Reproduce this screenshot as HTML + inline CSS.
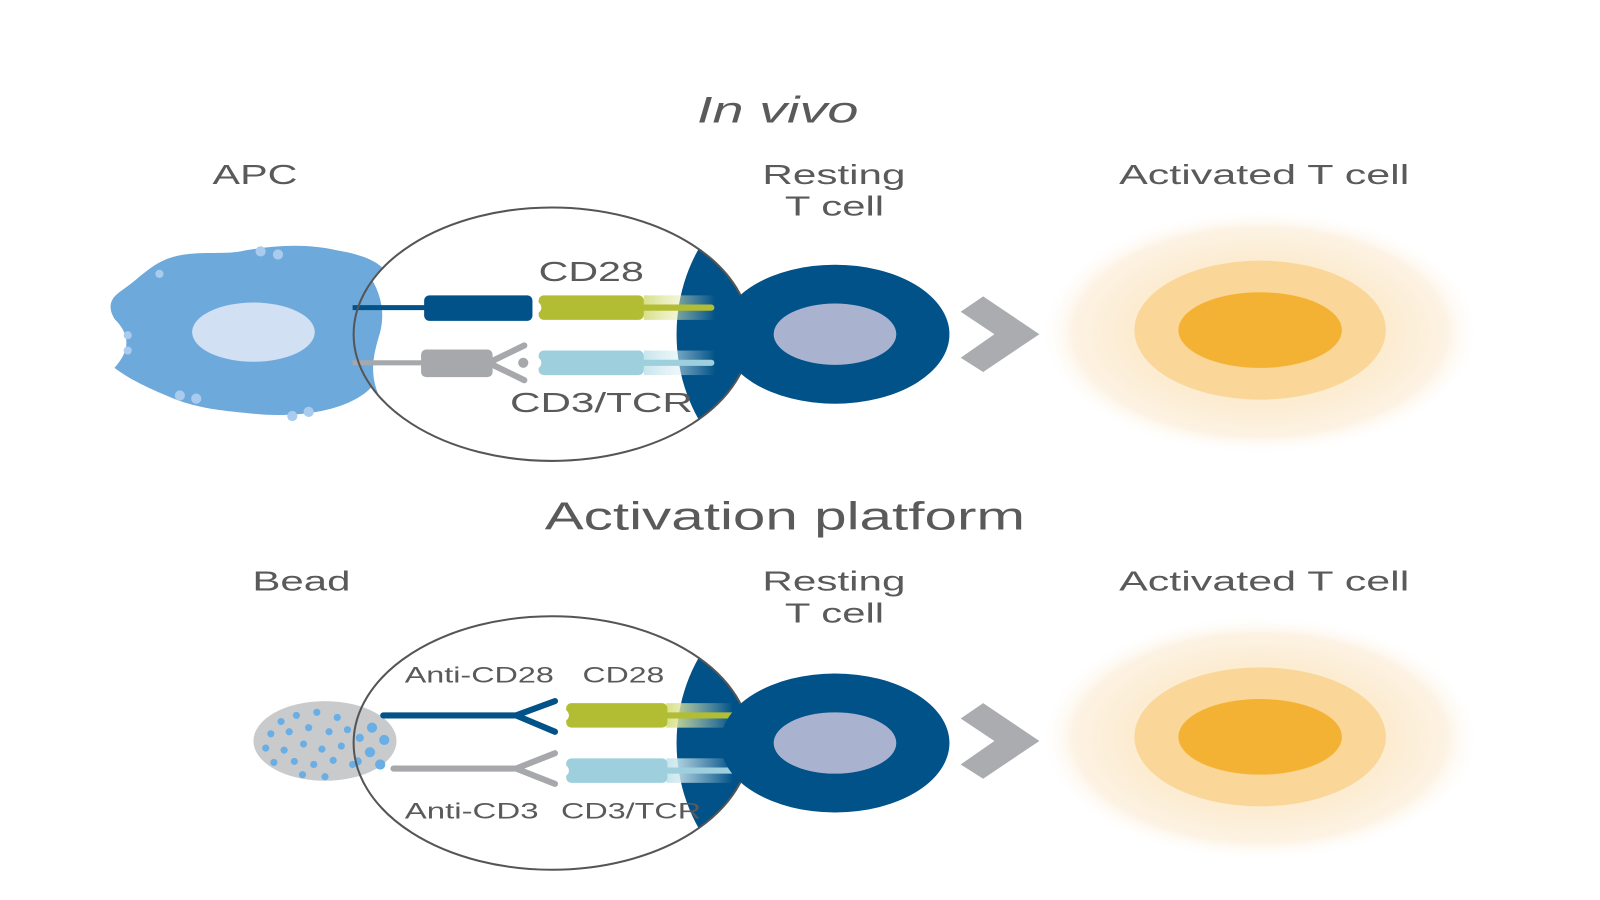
<!DOCTYPE html>
<html><head><meta charset="utf-8"><style>
html,body{margin:0;padding:0;background:#fff;}
svg{display:block;}
text{font-family:"Liberation Sans",sans-serif;fill:#5a5a5a;}
</style></head><body>
<svg width="1600" height="900" viewBox="0 0 1600 900" xmlns="http://www.w3.org/2000/svg">
<defs>
<radialGradient id="glow" cx="50%" cy="50%" r="50%">
<stop offset="0" stop-color="#fbe3b8"/>
<stop offset="0.6" stop-color="#fcecd2"/>
<stop offset="0.85" stop-color="#fdf3e4"/>
<stop offset="1" stop-color="#fff" stop-opacity="0"/>
</radialGradient>
<linearGradient id="gG" x1="0" x2="1"><stop offset="0" stop-color="#d8e08a"/><stop offset="1" stop-color="#f3f6d8" stop-opacity="0"/></linearGradient>
<linearGradient id="gB" x1="0" x2="1"><stop offset="0" stop-color="#c7e5ec"/><stop offset="1" stop-color="#eef7fa" stop-opacity="0"/></linearGradient>
<clipPath id="c1"><ellipse cx="540" cy="327" rx="194" ry="124"/></clipPath>
<clipPath id="c2"><ellipse cx="540" cy="727" rx="194" ry="124"/></clipPath>
</defs>
<g transform="scale(1.022)">
<text x="682" y="120" font-size="36" font-style="italic" textLength="158" lengthAdjust="spacingAndGlyphs">In vivo</text>
<text x="208" y="180" font-size="27" textLength="83" lengthAdjust="spacingAndGlyphs">APC</text>
<text x="746" y="180" font-size="27" textLength="140" lengthAdjust="spacingAndGlyphs">Resting</text>
<text x="768" y="211" font-size="27" textLength="97" lengthAdjust="spacingAndGlyphs">T cell</text>
<text x="1095" y="180" font-size="27" textLength="284" lengthAdjust="spacingAndGlyphs">Activated T cell</text>

<!-- APC -->
<path d="M118,285 C140,270 150,255 175,250 C200,245 220,250 240,245 C270,240 300,238 330,245 C360,250 385,260 383,285 C380,305 372,320 375,340 C378,360 370,380 345,392 C320,405 280,408 250,405 C220,402 195,400 170,390 C145,380 125,370 112,360 C130,340 125,325 112,312 C105,300 108,292 118,285 Z" fill="#6ea9dc"/>
<g fill="#a9cbed"><circle cx="255" cy="246" r="5"/><circle cx="272" cy="249" r="5"/><circle cx="156" cy="268" r="4"/><circle cx="125" cy="328" r="4"/><circle cx="125" cy="343" r="4"/><circle cx="176" cy="387" r="5"/><circle cx="192" cy="390" r="5"/><circle cx="286" cy="407" r="5"/><circle cx="302" cy="403" r="5"/></g>
<ellipse cx="248" cy="325" rx="60" ry="29" fill="#d1e0f3"/>

<!-- magnifier top -->
<ellipse cx="540" cy="327" rx="194" ry="124" fill="#fff"/>
<g clip-path="url(#c1)">
<path d="M355,260 C370,280 378,300 372,325 C366,345 360,365 372,390 L340,400 L340,250 Z" fill="#6ea9dc"/>
<ellipse cx="790" cy="327" rx="128" ry="150" fill="#005288"/>
<rect x="630" y="289" width="70" height="24" fill="url(#gG)"/>
<rect x="630" y="343" width="70" height="24" fill="url(#gB)"/>
</g>
<line x1="345" y1="301" x2="420" y2="301" stroke="#005288" stroke-width="5"/>
<rect x="415" y="289" width="106" height="25" rx="5" fill="#005288"/>
<path d="M532,289 H625 a5,5 0 0 1 5,5 V308 a5,5 0 0 1 -5,5 H532 a5,5 0 0 1 -5,-5 V306 a6,6 0 0 0 0,-10 V294 a5,5 0 0 1 5,-5 Z" fill="#b2bd33"/>
<line x1="628" y1="301" x2="696" y2="301" stroke="#b2bd33" stroke-width="6" stroke-linecap="round"/>
<line x1="345" y1="355" x2="415" y2="355" stroke="#a6a8ab" stroke-width="5"/>
<rect x="412" y="342" width="70" height="27" rx="5" fill="#a6a8ab"/>
<path d="M478,355 L513,338 M478,355 L513,372" stroke="#a6a8ab" stroke-width="6" stroke-linecap="round"/>
<circle cx="512" cy="355" r="5" fill="#a6a8ab"/>
<path d="M532,343 H625 a5,5 0 0 1 5,5 V362 a5,5 0 0 1 -5,5 H532 a5,5 0 0 1 -5,-5 V360 a6,6 0 0 0 0,-10 V348 a5,5 0 0 1 5,-5 Z" fill="#9dd0dc"/>
<line x1="628" y1="355" x2="696" y2="355" stroke="#9dd0dc" stroke-width="6" stroke-linecap="round"/>
<ellipse cx="540" cy="327" rx="194" ry="124" fill="none" stroke="#555" stroke-width="2"/>
<text x="527" y="275" font-size="27" textLength="103" lengthAdjust="spacingAndGlyphs">CD28</text>
<text x="499" y="403" font-size="27" textLength="179" lengthAdjust="spacingAndGlyphs">CD3/TCR</text>

<!-- T cell top -->
<ellipse cx="817" cy="327" rx="112" ry="68" fill="#005288"/>
<ellipse cx="817" cy="327" rx="60" ry="30" fill="#a9b3d0"/>
<polygon points="940,305 962,290 1017,327 962,364 940,350 973,327" fill="#aaacaf"/>
<ellipse cx="1233" cy="325" rx="215" ry="120" fill="url(#glow)"/>
<ellipse cx="1233" cy="323" rx="123" ry="68" fill="#fad698"/>
<ellipse cx="1233" cy="323" rx="80" ry="37" fill="#f4b234"/>

<!-- bottom -->
<text x="533" y="518" font-size="38" textLength="470" lengthAdjust="spacingAndGlyphs">Activation platform</text>
<text x="247" y="578" font-size="27" textLength="96" lengthAdjust="spacingAndGlyphs">Bead</text>
<text x="746" y="578" font-size="27" textLength="140" lengthAdjust="spacingAndGlyphs">Resting</text>
<text x="768" y="609" font-size="27" textLength="97" lengthAdjust="spacingAndGlyphs">T cell</text>
<text x="1095" y="578" font-size="27" textLength="284" lengthAdjust="spacingAndGlyphs">Activated T cell</text>

<ellipse cx="318" cy="725" rx="70" ry="39" fill="#c9cacc"/>
<g fill="#6aaee6">
<circle cx="275" cy="706" r="3.5"/><circle cx="290" cy="700" r="3.5"/><circle cx="310" cy="697" r="3.5"/><circle cx="330" cy="702" r="3.5"/><circle cx="265" cy="718" r="3.5"/><circle cx="283" cy="716" r="3.5"/><circle cx="302" cy="712" r="3.5"/><circle cx="322" cy="716" r="3.5"/><circle cx="340" cy="714" r="3.5"/><circle cx="260" cy="732" r="3.5"/><circle cx="278" cy="734" r="3.5"/><circle cx="297" cy="728" r="3.5"/><circle cx="315" cy="733" r="3.5"/><circle cx="334" cy="730" r="3.5"/><circle cx="268" cy="746" r="3.5"/><circle cx="288" cy="745" r="3.5"/><circle cx="307" cy="748" r="3.5"/><circle cx="326" cy="744" r="3.5"/><circle cx="296" cy="758" r="3.5"/><circle cx="318" cy="760" r="3.5"/><circle cx="345" cy="748" r="3.5"/>
</g>
<ellipse cx="540" cy="727" rx="194" ry="124" fill="#fff"/>
<g clip-path="url(#c2)">
<ellipse cx="318" cy="725" rx="70" ry="39" fill="#c9cacc"/>
<g fill="#6aaee6"><circle cx="364" cy="712" r="5"/><circle cx="376" cy="724" r="5"/><circle cx="362" cy="736" r="5"/><circle cx="372" cy="748" r="5"/><circle cx="352" cy="722" r="4"/><circle cx="350" cy="745" r="4"/></g>
<ellipse cx="790" cy="727" rx="128" ry="150" fill="#005288"/>
<rect x="652" y="688" width="65" height="24" fill="url(#gG)"/>
<rect x="652" y="742" width="65" height="24" fill="url(#gB)"/>
</g>
<path d="M375,700 H505 M505,700 L543,686 M505,700 L543,716" stroke="#005288" stroke-width="6" fill="none" stroke-linecap="round"/>
<path d="M385,752 H505 M505,752 L543,737 M505,752 L543,767" stroke="#a6a8ab" stroke-width="6" fill="none" stroke-linecap="round"/>
<path d="M559,688 H648 a5,5 0 0 1 5,5 V707 a5,5 0 0 1 -5,5 H559 a5,5 0 0 1 -5,-5 V705 a6,6 0 0 0 0,-10 V693 a5,5 0 0 1 5,-5 Z" fill="#b2bd33"/>
<line x1="650" y1="700" x2="718" y2="700" stroke="#b2bd33" stroke-width="6" stroke-linecap="round"/>
<path d="M559,742 H648 a5,5 0 0 1 5,5 V761 a5,5 0 0 1 -5,5 H559 a5,5 0 0 1 -5,-5 V759 a6,6 0 0 0 0,-10 V747 a5,5 0 0 1 5,-5 Z" fill="#9dd0dc"/>
<line x1="650" y1="754" x2="718" y2="754" stroke="#9dd0dc" stroke-width="6" stroke-linecap="round"/>
<ellipse cx="540" cy="727" rx="194" ry="124" fill="none" stroke="#555" stroke-width="2"/>
<text x="396" y="668" font-size="22" textLength="146" lengthAdjust="spacingAndGlyphs">Anti-CD28</text>
<text x="570" y="668" font-size="22" textLength="80" lengthAdjust="spacingAndGlyphs">CD28</text>
<text x="396" y="801" font-size="22" textLength="131" lengthAdjust="spacingAndGlyphs">Anti-CD3</text>
<text x="549" y="801" font-size="22" textLength="137" lengthAdjust="spacingAndGlyphs">CD3/TCR</text>

<ellipse cx="817" cy="727" rx="112" ry="68" fill="#005288"/>
<ellipse cx="817" cy="727" rx="60" ry="30" fill="#a9b3d0"/>
<polygon points="940,703 962,688 1017,725 962,762 940,748 973,725" fill="#aaacaf"/>
<ellipse cx="1233" cy="722" rx="215" ry="120" fill="url(#glow)"/>
<ellipse cx="1233" cy="721" rx="123" ry="68" fill="#fad698"/>
<ellipse cx="1233" cy="721" rx="80" ry="37" fill="#f4b234"/>
</g>
</svg>
</body></html>
